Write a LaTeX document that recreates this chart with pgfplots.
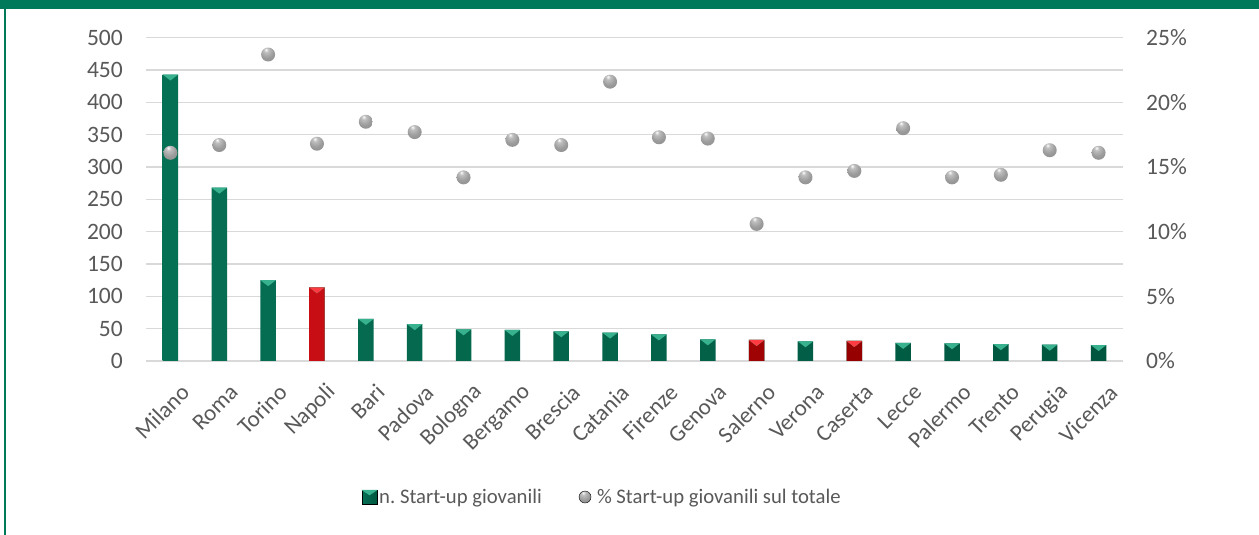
\documentclass[border=0pt]{standalone}
\usepackage{pgfplots}
\pgfplotsset{compat=1.18}
\usepackage{pgfplotstable}
\usepackage{fontspec}
\setmainfont{Carlito}

\definecolor{frameGreen}{RGB}{0,120,90}
\definecolor{gLeft}{RGB}{6,112,84}
\definecolor{gMid}{RGB}{10,128,97}
\definecolor{gRight}{RGB}{0,86,63}
\definecolor{gLight}{RGB}{56,178,142}
\definecolor{rLeft}{RGB}{200,14,20}
\definecolor{rMid}{RGB}{212,12,18}
\definecolor{rRight}{RGB}{150,0,0}
\definecolor{rLight}{RGB}{255,58,64}
\definecolor{txt}{RGB}{89,89,89}
\definecolor{gridc}{RGB}{217,217,217}

% grey sphere used for the percentage markers
\pgfdeclareradialshading{sphere}{\pgfqpoint{-8bp}{18bp}}{%
  color(0bp)=(white);
  color(8bp)=(gray!50);
  color(24bp)=(gray!78);
  color(45bp)=(gray!92);
  color(60bp)=(gray!85!black);
  color(75bp)=(gray!70!black)}
\pgfdeclareplotmark{sphere}{%
  \pgfpathcircle{\pgfpointorigin}{\pgfplotmarksize}%
  \pgfshadepath{sphere}{0}%
  \pgfusepath{}}

% lighter bevel facet on top of each column
\pgfdeclareplotmark{bevtop}{%
  \pgfpathmoveto{\pgfpoint{-7.75bp}{0bp}}%
  \pgfpathlineto{\pgfpoint{7.75bp}{0bp}}%
  \pgfpathlineto{\pgfpoint{0bp}{-6bp}}%
  \pgfpathclose
  \pgfusepathqfill}

% x: position, n: number of young start-ups, pct: share of total (%)
\pgfplotstableread{
x  n    pct
0  443  16.1
1  268  16.7
2  125  23.7
3  114  16.8
4  65   18.5
5  57   17.7
6  49   14.2
7  48   17.1
8  46   16.7
9  44   21.6
10 41   17.3
11 33.5 17.2
12 32.5 10.6
13 30.5 14.2
14 31   14.7
15 28   18.0
16 27.4 14.2
17 26   14.4
18 25.2 16.3
19 24.7 16.1
}\datatab

% cities highlighted in red
\pgfplotstableread{
x  n
3  114
12 32.5
14 31
}\redtab

\pgfplotsset{
  common/.style={
    scale only axis,
    width=977bp, height=323.3bp,
    at={(146bp,174bp)}, anchor=south west,
    xmin=-0.5, xmax=19.5,
    axis line style={draw=none},
    major tick length=0pt,
    /pgf/number format/assume math mode=true,
    tick label style={text=txt},
  }
}

\begin{document}
\begin{tikzpicture}
\path[use as bounding box] (0,0) rectangle (1259bp,535bp);
\fill[white] (0,0) rectangle (1259bp,535bp);
\fill[frameGreen] (0,526.3bp) rectangle (1259bp,535bp);
\fill[frameGreen] (3.7bp,0) rectangle (6.1bp,535bp);

\begin{axis}[common,
  ymin=0, ymax=500,
  ytick={0,50,...,500},
  ymajorgrids,
  grid style={draw=gridc, line width=1.3bp},
  yticklabel style={font=\fontsize{23.5bp}{26bp}\selectfont, inner sep=0pt, xshift=-23bp},
  xtick={0,...,19},
  xticklabels={Milano,Roma,Torino,Napoli,Bari,Padova,Bologna,Bergamo,Brescia,Catania,Firenze,Genova,Salerno,Verona,Caserta,Lecce,Palermo,Trento,Perugia,Vicenza},
  xticklabel style={font=\fontsize{23bp}{26bp}\selectfont, rotate=45, anchor=east, inner sep=0pt, yshift=-30bp, xshift=-9bp},
]
\addplot[ybar, bar width=15.5bp, bar shift=0pt, draw=none,
  left color=gLeft, middle color=gMid, right color=gRight]
  table[x=x, y=n] {\datatab};
\addplot[only marks, mark=bevtop, mark options={fill=gLight, draw=none}]
  table[x=x, y=n] {\datatab};
\addplot[ybar, bar width=15.5bp, bar shift=0pt, draw=none,
  left color=rLeft, middle color=rMid, right color=rRight]
  table[x=x, y=n] {\redtab};
\addplot[only marks, mark=bevtop, mark options={fill=rLight, draw=none}]
  table[x=x, y=n] {\redtab};
\end{axis}

\begin{axis}[common,
  ymin=0, ymax=25,
  ytick={0,5,...,25},
  axis y line*=right,
  axis x line=none,
  yticklabel={\pgfmathprintnumber{\tick}\%},
  yticklabel style={font=\fontsize{23.5bp}{26bp}\selectfont, inner sep=0pt, xshift=23bp},
  legend style={at={(0.467,-0.4207)}, anchor=center, draw=none, fill=none,
    font=\fontsize{20.7bp}{24bp}\selectfont, text=txt,
    legend columns=2,
    nodes={inner sep=2bp},
    /tikz/every even column/.append style={column sep=35bp}},
]
\addlegendimage{legend image code/.code={
    \shade[left color=gLeft, middle color=gMid, right color=gRight] (0bp,-7bp) rectangle (15bp,7bp);
    \fill[gLight] (0bp,7bp) -- (15bp,7bp) -- (7.5bp,2bp) -- cycle;}}
\addlegendentry{n.\ Start-up giovanili}
\addplot[only marks, mark=sphere, mark size=7bp,
  legend image code/.code={\shade[shading=sphere] (6bp,0bp) circle (6bp);
    \path[draw=none, fill=none] (0bp,0bp) rectangle (16bp,0.1bp);}]
  table[x=x, y=pct] {\datatab};
\addlegendentry{\% Start-up giovanili sul totale}
\end{axis}
\end{tikzpicture}
\end{document}
